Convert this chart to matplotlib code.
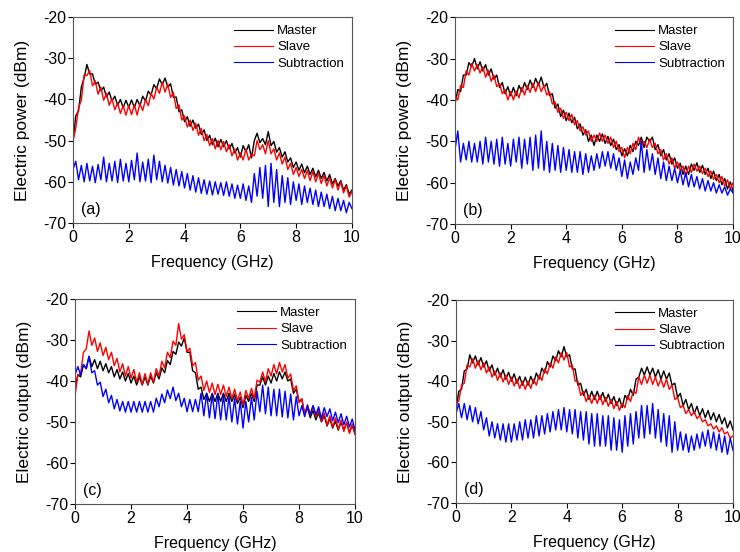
import numpy as np
import matplotlib
matplotlib.use("Agg")
import matplotlib.pyplot as plt

plt.rcParams['font.family'] = ['Liberation Sans', 'DejaVu Sans']
plt.rcParams['axes.unicode_minus'] = False

freq = np.round(np.arange(0, 101) * 0.1, 1)  # GHz sample positions

master_a = [
-50.5, -44.0, -42.8, -37.0, -34.8, -31.5, -33.8, -33.8, -36.3, -35.8,
-37.9, -37.0, -39.4, -38.2, -40.4, -39.2, -41.4, -40.0, -42.0, -40.2,
-41.9, -40.1, -42.0, -40.0, -41.5, -39.2, -40.4, -38.0, -38.9, -36.4,
-37.4, -35.0, -36.4, -34.8, -37.0, -36.2, -39.5, -39.4, -43.0, -42.5,
-45.4, -44.2, -46.5, -45.0, -47.0, -46.0, -48.5, -47.4, -50.0, -48.7,
-51.0, -49.4, -51.5, -49.7, -51.5, -50.0, -52.0, -50.7, -53.0, -51.7,
-54.0, -51.2, -52.7, -51.0, -54.2, -50.0, -48.2, -50.5, -49.5, -51.0,
-47.8, -51.2, -50.2, -52.8, -51.7, -54.0, -52.7, -55.2, -54.2, -56.5,
-55.2, -57.2, -55.7, -57.8, -56.2, -58.2, -56.7, -58.8, -57.2, -59.2,
-57.7, -59.8, -58.2, -60.5, -59.2, -61.0, -59.7, -62.0, -60.7, -63.0,
-62.0]
slave_a = [
-50.0, -47.0, -42.0, -40.2, -34.0, -34.2, -33.0, -36.7, -35.5, -38.7,
-37.0, -40.2, -38.5, -41.4, -39.8, -42.5, -40.8, -43.4, -41.5, -43.8,
-41.5, -43.7, -41.3, -43.8, -41.0, -42.7, -40.0, -41.5, -38.5, -39.9,
-37.0, -38.5, -35.8, -38.2, -36.3, -39.5, -38.3, -42.2, -41.3, -45.0,
-44.0, -46.7, -45.0, -47.5, -45.8, -48.7, -47.0, -50.0, -48.5, -51.2,
-49.5, -52.0, -50.0, -52.2, -50.2, -52.7, -51.0, -53.7, -52.0, -54.7,
-53.0, -54.7, -52.0, -54.7, -53.3, -53.7, -50.0, -52.2, -51.0, -53.2,
-50.0, -53.2, -52.0, -54.7, -53.0, -55.7, -54.0, -57.0, -55.5, -58.2,
-56.5, -58.7, -57.0, -59.2, -57.3, -59.7, -57.5, -60.0, -58.0, -60.4,
-58.5, -61.0, -59.0, -61.5, -59.5, -62.0, -60.0, -62.7, -61.0, -63.7,
-62.5]
sub_a = [
-57.0, -55.0, -59.5, -56.0, -60.0, -55.5, -59.8, -56.2, -60.2, -55.8,
-59.5, -54.0, -60.0, -55.5, -59.8, -55.0, -60.2, -54.5, -59.8, -55.5,
-60.0, -54.8, -59.5, -53.0, -60.0, -55.2, -59.8, -54.5, -60.2, -53.5,
-59.5, -55.0, -60.0, -56.0, -60.3, -56.5, -60.8, -57.0, -61.0, -57.5,
-61.5, -58.0, -62.0, -58.5, -62.5, -59.0, -62.8, -59.5, -63.0, -59.8,
-63.2, -60.0, -63.0, -60.2, -63.3, -60.0, -63.5, -60.5, -64.0, -60.8,
-64.0, -60.5, -64.5, -61.0, -65.0, -58.0, -63.5, -56.5, -64.0, -56.0,
-66.0, -55.5, -65.0, -57.0, -66.0, -58.5, -65.0, -59.0, -65.5, -60.0,
-64.5, -60.5, -65.5, -61.0, -65.0, -61.5, -65.5, -62.0, -66.0, -62.5,
-66.0, -63.0, -66.5, -63.5, -67.0, -64.0, -67.0, -64.5, -67.5, -65.0,
-66.5]

master_b = [
-41.0, -37.5, -38.0, -34.0, -34.0, -31.0, -32.0, -30.0, -32.5, -30.8,
-33.0, -31.5, -34.0, -32.5, -35.0, -34.0, -37.0, -35.8, -38.5, -36.8,
-39.0, -37.0, -39.0, -36.5, -38.0, -35.8, -37.5, -35.2, -37.0, -34.8,
-36.5, -34.5, -37.0, -36.0, -39.0, -38.5, -42.0, -41.0, -44.0, -42.5,
-45.0, -43.2, -45.5, -44.2, -47.0, -45.8, -48.5, -47.2, -50.0, -48.5,
-51.0, -48.5, -50.0, -48.2, -50.5, -48.8, -51.0, -49.5, -52.0, -50.8,
-53.5, -51.8, -53.5, -51.0, -52.5, -50.0, -51.0, -49.0, -51.5, -49.0,
-50.0, -49.0, -52.0, -50.8, -53.5, -52.0, -54.5, -53.0, -55.5, -54.0,
-56.5, -55.3, -58.0, -56.0, -58.0, -55.5, -57.0, -55.2, -57.5, -55.8,
-58.0, -56.5, -59.0, -57.2, -59.5, -58.0, -60.5, -59.0, -61.5, -59.8,
-62.0]
slave_b = [
-39.0, -40.0, -36.5, -37.0, -33.0, -34.0, -31.2, -33.0, -31.5, -33.5,
-32.0, -34.5, -32.8, -35.5, -34.0, -36.8, -36.0, -38.5, -37.5, -40.0,
-38.0, -40.0, -37.8, -39.5, -37.0, -38.8, -36.5, -38.2, -36.0, -38.0,
-35.8, -38.0, -36.5, -38.8, -38.0, -41.0, -40.5, -43.0, -42.0, -44.5,
-43.0, -45.0, -43.5, -46.0, -45.0, -47.5, -46.5, -48.5, -47.5, -50.0,
-48.5, -50.0, -48.0, -50.0, -48.5, -50.5, -49.0, -51.5, -50.0, -52.5,
-51.5, -54.0, -51.5, -53.0, -50.5, -52.0, -49.0, -51.0, -50.0, -51.5,
-49.5, -51.5, -50.5, -53.0, -52.0, -54.5, -53.0, -55.5, -54.0, -56.5,
-55.0, -57.0, -56.0, -58.5, -56.0, -57.5, -55.5, -57.2, -56.0, -57.8,
-56.5, -58.5, -57.2, -59.2, -58.0, -60.0, -58.5, -60.8, -59.3, -61.5,
-60.0]
sub_b = [
-52.0, -47.5, -55.0, -50.5, -54.5, -50.0, -55.0, -50.5, -55.0, -50.0,
-55.5, -49.0, -55.0, -50.0, -55.5, -49.5, -56.0, -49.0, -55.5, -50.5,
-56.0, -49.5, -55.0, -49.0, -56.5, -49.5, -55.5, -49.0, -57.0, -48.5,
-56.5, -47.5, -57.0, -50.0, -57.5, -50.5, -57.0, -51.0, -57.5, -51.5,
-57.0, -52.0, -57.5, -52.5, -57.5, -52.5, -58.0, -53.0, -57.5, -53.5,
-57.0, -53.0, -56.5, -52.5, -56.0, -52.5, -56.5, -53.0, -57.0, -54.0,
-58.5, -54.5, -59.0, -55.0, -58.0, -54.0, -57.0, -50.0, -57.5, -52.0,
-57.0, -53.0, -58.0, -54.0, -59.0, -55.0, -59.5, -56.0, -59.5, -56.5,
-60.0, -57.0, -60.5, -57.5, -61.0, -58.0, -61.0, -58.5, -61.5, -59.0,
-62.0, -59.5, -62.0, -60.0, -62.5, -60.5, -62.5, -61.0, -63.0, -61.5,
-62.5]

master_c = [
-42.0, -38.5, -39.0, -36.0, -37.0, -34.0, -36.5, -34.8, -37.0, -35.2,
-37.5, -35.8, -38.0, -36.5, -39.0, -37.2, -39.5, -37.8, -40.0, -38.2,
-40.5, -38.8, -41.0, -39.0, -41.0, -39.0, -41.0, -38.8, -40.5, -38.0,
-39.5, -36.8, -38.0, -35.0, -36.0, -32.8, -33.5, -30.5, -31.5, -29.5,
-33.0, -33.0, -37.5, -38.0, -42.0, -41.5, -44.5, -43.0, -45.0, -43.0,
-45.0, -43.0, -45.0, -43.0, -45.0, -43.0, -45.0, -43.2, -45.5, -44.0,
-46.5, -43.5, -45.0, -43.0, -45.0, -41.0, -41.0, -39.0, -41.0, -38.8,
-40.5, -38.2, -40.0, -37.8, -39.5, -37.8, -40.0, -39.5, -43.0, -42.0,
-45.0, -44.5, -48.0, -46.5, -49.0, -47.2, -49.5, -47.8, -50.0, -48.5,
-51.0, -49.2, -51.5, -49.8, -52.0, -50.0, -52.0, -50.2, -52.5, -50.8,
-53.0]
slave_c = [
-43.5, -38.5, -38.2, -33.0, -32.2, -27.8, -31.3, -29.5, -32.8, -30.7,
-33.8, -31.8, -34.8, -33.0, -36.3, -34.5, -37.8, -35.8, -38.8, -36.5,
-39.3, -37.2, -40.3, -38.0, -40.8, -38.2, -40.8, -38.0, -40.3, -37.0,
-38.8, -35.2, -36.8, -33.0, -34.3, -30.3, -31.3, -26.0, -29.8, -28.7,
-32.8, -32.0, -36.3, -35.5, -39.8, -38.8, -42.3, -40.0, -42.8, -40.5,
-43.3, -40.8, -43.3, -41.0, -43.8, -41.5, -44.3, -42.0, -44.8, -42.7,
-45.8, -42.3, -44.3, -41.8, -44.3, -39.8, -40.3, -37.8, -40.3, -37.0,
-38.8, -36.0, -38.3, -35.5, -37.8, -36.0, -39.3, -38.3, -42.3, -41.2,
-45.3, -44.3, -48.3, -45.8, -48.3, -46.0, -48.8, -46.8, -49.8, -47.8,
-50.8, -48.5, -51.3, -49.0, -51.8, -49.5, -52.3, -50.0, -52.8, -50.5,
-53.0]
sub_c = [
-38.5, -36.5, -38.5, -36.0, -37.0, -34.0, -38.0, -37.5, -41.0, -40.3,
-43.8, -42.0, -45.3, -43.5, -46.8, -44.5, -47.3, -45.0, -47.6, -45.0,
-47.6, -45.0, -47.6, -45.0, -47.6, -45.0, -47.6, -45.0, -47.6, -44.2,
-46.3, -43.2, -45.3, -42.2, -44.3, -41.5, -44.8, -43.0, -46.3, -44.2,
-47.5, -44.5, -47.5, -44.5, -47.5, -43.0, -48.5, -43.0, -49.0, -43.2,
-49.2, -43.2, -49.5, -43.5, -49.5, -43.8, -50.0, -44.2, -50.5, -45.0,
-51.5, -45.0, -50.0, -44.0, -49.5, -42.5, -47.5, -41.0, -48.0, -41.5,
-48.5, -42.0, -48.5, -42.0, -48.8, -42.5, -49.0, -43.2, -49.5, -43.8,
-48.5, -46.0, -48.7, -46.0, -48.2, -46.0, -48.2, -46.3, -49.2, -46.5,
-48.7, -46.8, -49.7, -47.6, -50.2, -48.0, -50.7, -48.6, -51.2, -49.3,
-52.0]

master_d = [
-47.0, -42.5, -42.0, -37.5, -37.0, -33.5, -35.5, -33.8, -36.0, -34.2,
-36.5, -35.0, -37.5, -36.0, -38.5, -36.8, -39.0, -37.2, -39.5, -37.8,
-40.0, -38.2, -40.5, -38.8, -41.0, -39.0, -41.0, -38.8, -40.5, -38.0,
-39.5, -36.8, -38.0, -35.2, -36.5, -33.8, -35.0, -32.5, -34.0, -31.5,
-34.0, -33.5, -37.0, -37.0, -41.0, -40.5, -43.5, -42.0, -44.5, -42.5,
-44.5, -42.5, -44.5, -42.8, -45.0, -43.2, -45.5, -43.8, -46.0, -44.2,
-46.5, -43.5, -44.5, -42.0, -43.5, -39.5, -39.0, -36.8, -38.5, -36.5,
-38.5, -36.8, -39.0, -37.2, -39.5, -37.5, -39.5, -38.0, -41.0, -40.5,
-44.0, -43.0, -46.0, -44.5, -47.0, -45.5, -48.0, -46.2, -48.5, -46.8,
-49.0, -47.2, -49.5, -47.8, -50.0, -48.2, -50.5, -49.0, -51.5, -49.8,
-52.0]
slave_d = [
-45.0, -45.0, -41.0, -40.5, -36.0, -36.5, -34.5, -36.8, -35.0, -37.2,
-35.5, -38.0, -36.5, -39.0, -37.5, -39.8, -38.0, -40.2, -38.5, -40.8,
-39.0, -41.2, -39.5, -41.8, -40.0, -42.0, -40.0, -41.8, -39.5, -41.0,
-38.5, -39.8, -37.0, -38.2, -35.5, -36.8, -34.0, -35.5, -33.0, -34.8,
-33.0, -36.5, -36.0, -40.0, -40.0, -43.5, -42.5, -45.0, -43.5, -45.5,
-43.5, -45.5, -43.5, -45.8, -44.0, -46.2, -44.5, -46.8, -45.0, -47.2,
-45.5, -46.5, -43.5, -45.0, -42.5, -43.0, -39.0, -40.8, -38.5, -40.5,
-38.5, -40.8, -39.0, -41.2, -39.5, -41.5, -39.5, -42.0, -41.0, -44.5,
-44.0, -46.5, -46.0, -48.0, -47.0, -48.5, -47.5, -49.2, -48.5, -50.0,
-49.5, -51.0, -50.5, -51.8, -51.0, -52.5, -51.5, -53.0, -52.5, -54.0,
-53.5]
sub_d = [
-48.0, -45.5, -49.0, -45.5, -49.5, -46.0, -50.0, -46.5, -50.5, -47.5,
-52.0, -49.0, -53.5, -50.0, -54.0, -50.5, -54.5, -50.5, -55.0, -50.5,
-55.0, -50.5, -54.5, -50.0, -54.5, -49.5, -54.0, -49.5, -54.0, -48.5,
-53.5, -48.5, -53.0, -48.0, -52.5, -47.5, -52.0, -47.0, -52.0, -46.5,
-52.5, -47.0, -53.0, -47.0, -54.0, -47.5, -54.5, -47.5, -55.5, -48.0,
-56.0, -48.0, -56.0, -48.5, -56.0, -48.5, -57.0, -49.0, -57.0, -49.5,
-57.5, -48.5, -56.0, -48.0, -55.5, -47.5, -54.0, -46.0, -54.0, -46.0,
-53.0, -45.5, -54.0, -47.0, -55.0, -48.0, -56.0, -48.5, -57.5, -50.0,
-57.0, -52.5, -57.0, -53.0, -57.5, -53.5, -57.0, -53.0, -56.5, -52.5,
-56.0, -52.0, -56.5, -52.5, -57.0, -53.0, -57.5, -53.5, -58.0, -54.0,
-57.0]

series_names = ["Master", "Slave", "Subtraction"]
series_colors = ["black", "red", "blue"]
panel_tags = ["(a)", "(b)", "(c)", "(d)"]
ylabels = ["Electric power (dBm)", "Electric power (dBm)",
           "Electric output (dBm)", "Electric output (dBm)"]
panel_data = [
    (master_a, slave_a, sub_a),
    (master_b, slave_b, sub_b),
    (master_c, slave_c, sub_c),
    (master_d, slave_d, sub_d),
]
positions = [
    [0.0986, 0.596, 0.377, 0.373],
    [0.6149, 0.594, 0.3757, 0.375],
    [0.1014, 0.087, 0.3784, 0.3714],
    [0.6162, 0.0888, 0.3743, 0.3678],
]

fig = plt.figure(figsize=(7.4, 5.52), dpi=100)
for pos, data, tag, ylab in zip(positions, panel_data, panel_tags, ylabels):
    ax = fig.add_axes(pos)
    for vals, name, col in zip(data, series_names, series_colors):
        ax.plot(freq, vals, color=col, lw=1.0, label=name)
    ax.set_xlim(0, 10)
    ax.set_ylim(-70, -20)
    ax.set_xticks([0, 2, 4, 6, 8, 10])
    ax.set_yticks([-70, -60, -50, -40, -30, -20])
    ax.tick_params(direction='out', length=3.5, width=0.8, labelsize=11.5,
                   top=False, right=False, pad=1.5)
    for sp in ax.spines.values():
        sp.set_color('#555555')
        sp.set_linewidth(0.8)
    ax.set_xlabel("Frequency (GHz)", fontsize=11.5, labelpad=7)
    ax.set_ylabel(ylab, fontsize=12.5, labelpad=9)
    ax.text(0.03, 0.065, tag, transform=ax.transAxes, fontsize=11.5,
            ha='left', va='center')
    leg = ax.legend(loc='upper right', frameon=False, fontsize=9.5,
                    handlelength=3.0, handletextpad=0.3, labelspacing=0.3,
                    borderaxespad=0.2)
    for h in leg.get_lines():
        h.set_linewidth(0.8)

fig.savefig("out.png", dpi=100)
